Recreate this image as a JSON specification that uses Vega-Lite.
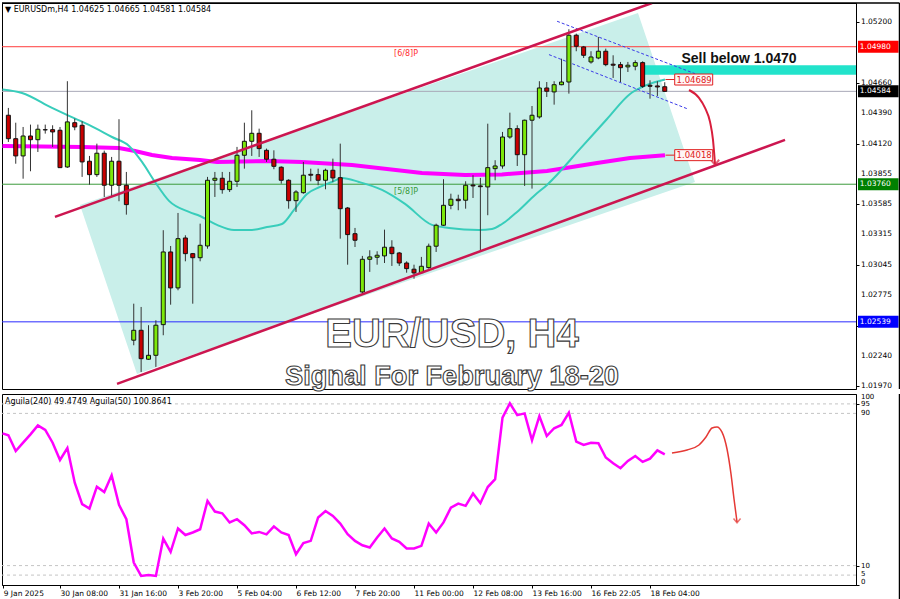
{
"$schema":"https://vega.github.io/schema/vega-lite/v6.json",
"background":"white",
"padding":{"left":0,"top":1,"right":0,"bottom":0},
"spacing":1,
"config":{"view":{"stroke":"#000000","strokeWidth":1},"font":"DejaVu Sans","axis":{"grid":false,"labelOverlap":false,"labelBound":false,"labelFlush":false},"scale":{"continuousPadding":0}},
"datasets":{
"candles":[
{"i":1,"o":1.04372,"h":1.04437,"l":1.04135,"c":1.04164},
{"i":2,"o":1.04164,"h":1.04306,"l":1.03942,"c":1.04011},
{"i":3,"o":1.04011,"h":1.04268,"l":1.03809,"c":1.04188},
{"i":4,"o":1.04188,"h":1.04289,"l":1.03875,"c":1.04155},
{"i":5,"o":1.04155,"h":1.04289,"l":1.04046,"c":1.04248},
{"i":6,"o":1.04244,"h":1.04289,"l":1.04209,"c":1.04242},
{"i":7,"o":1.04244,"h":1.04283,"l":1.04091,"c":1.04224},
{"i":8,"o":1.04239,"h":1.04268,"l":1.03904,"c":1.03907},
{"i":9,"o":1.03913,"h":1.04674,"l":1.03905,"c":1.04313},
{"i":10,"o":1.04306,"h":1.04342,"l":1.04239,"c":1.04268},
{"i":11,"o":1.04283,"h":1.04319,"l":1.03825,"c":1.03958},
{"i":12,"o":1.03964,"h":1.04011,"l":1.03756,"c":1.03845},
{"i":13,"o":1.03845,"h":1.0412,"l":1.03825,"c":1.04035},
{"i":14,"o":1.04035,"h":1.04058,"l":1.03647,"c":1.03751},
{"i":15,"o":1.03751,"h":1.04002,"l":1.03647,"c":1.03964},
{"i":16,"o":1.03964,"h":1.04337,"l":1.03609,"c":1.03751},
{"i":17,"o":1.03751,"h":1.03869,"l":1.0349,"c":1.03579},
{"i":18,"o":1.02376,"h":1.027,"l":1.02331,"c":1.02464},
{"i":19,"o":1.02464,"h":1.02671,"l":1.02094,"c":1.02212},
{"i":20,"o":1.02207,"h":1.02509,"l":1.02201,"c":1.02242},
{"i":21,"o":1.02242,"h":1.02553,"l":1.02139,"c":1.02509},
{"i":22,"o":1.02514,"h":1.03352,"l":1.0242,"c":1.03159},
{"i":23,"o":1.03159,"h":1.03212,"l":1.02691,"c":1.0284},
{"i":24,"o":1.0284,"h":1.03505,"l":1.02819,"c":1.03277},
{"i":25,"o":1.03283,"h":1.03307,"l":1.03076,"c":1.03144},
{"i":26,"o":1.03144,"h":1.0315,"l":1.027,"c":1.03108},
{"i":27,"o":1.03108,"h":1.0341,"l":1.03076,"c":1.03218},
{"i":28,"o":1.03212,"h":1.03825,"l":1.03188,"c":1.03795},
{"i":29,"o":1.03795,"h":1.03869,"l":1.03647,"c":1.03813},
{"i":30,"o":1.03813,"h":1.03869,"l":1.03676,"c":1.03712},
{"i":31,"o":1.03712,"h":1.03869,"l":1.03691,"c":1.03786},
{"i":32,"o":1.03786,"h":1.04091,"l":1.03736,"c":1.04017},
{"i":33,"o":1.04017,"h":1.04306,"l":1.03898,"c":1.04141},
{"i":34,"o":1.04141,"h":1.04416,"l":1.04011,"c":1.04212},
{"i":35,"o":1.04212,"h":1.04253,"l":1.04002,"c":1.04076},
{"i":36,"o":1.04061,"h":1.04076,"l":1.03958,"c":1.03982},
{"i":37,"o":1.03982,"h":1.04061,"l":1.03893,"c":1.03919},
{"i":38,"o":1.03911,"h":1.03919,"l":1.03765,"c":1.03795},
{"i":39,"o":1.03795,"h":1.03804,"l":1.03543,"c":1.03614},
{"i":40,"o":1.03614,"h":1.03707,"l":1.03514,"c":1.03691},
{"i":41,"o":1.03685,"h":1.03958,"l":1.03676,"c":1.0384},
{"i":42,"o":1.03848,"h":1.03898,"l":1.03786,"c":1.0384},
{"i":43,"o":1.03845,"h":1.03898,"l":1.03751,"c":1.03795},
{"i":44,"o":1.03795,"h":1.03898,"l":1.03715,"c":1.03884},
{"i":45,"o":1.03884,"h":1.03987,"l":1.0378,"c":1.03816},
{"i":46,"o":1.03818,"h":1.0412,"l":1.03277,"c":1.03543},
{"i":47,"o":1.03549,"h":1.03558,"l":1.03046,"c":1.03313},
{"i":48,"o":1.03321,"h":1.03372,"l":1.03203,"c":1.03263},
{"i":49,"o":1.02804,"h":1.03124,"l":1.02789,"c":1.03094},
{"i":50,"o":1.03094,"h":1.03174,"l":1.02982,"c":1.03115},
{"i":51,"o":1.03112,"h":1.03165,"l":1.03046,"c":1.0313},
{"i":52,"o":1.03124,"h":1.03357,"l":1.03061,"c":1.03201},
{"i":53,"o":1.03201,"h":1.03263,"l":1.03035,"c":1.03144},
{"i":54,"o":1.0315,"h":1.03159,"l":1.03035,"c":1.03061},
{"i":55,"o":1.03061,"h":1.03076,"l":1.02975,"c":1.03011},
{"i":56,"o":1.03006,"h":1.03046,"l":1.02922,"c":1.02973},
{"i":57,"o":1.02975,"h":1.03115,"l":1.02966,"c":1.03032},
{"i":58,"o":1.0302,"h":1.03233,"l":1.03011,"c":1.0321},
{"i":59,"o":1.0321,"h":1.0341,"l":1.03159,"c":1.03396},
{"i":60,"o":1.03396,"h":1.03804,"l":1.0339,"c":1.03573},
{"i":61,"o":1.03573,"h":1.03676,"l":1.03538,"c":1.03627},
{"i":62,"o":1.03627,"h":1.03667,"l":1.03529,"c":1.03614},
{"i":63,"o":1.03618,"h":1.03786,"l":1.03543,"c":1.03751},
{"i":64,"o":1.03753,"h":1.0384,"l":1.03638,"c":1.03745},
{"i":65,"o":1.03745,"h":1.03816,"l":1.03159,"c":1.03738},
{"i":66,"o":1.03736,"h":1.04297,"l":1.03485,"c":1.03907},
{"i":67,"o":1.03898,"h":1.03973,"l":1.03795,"c":1.03922},
{"i":68,"o":1.03922,"h":1.04224,"l":1.03898,"c":1.04179},
{"i":69,"o":1.04179,"h":1.04395,"l":1.04164,"c":1.04253},
{"i":70,"o":1.04253,"h":1.04283,"l":1.03922,"c":1.04022},
{"i":71,"o":1.04022,"h":1.04333,"l":1.03745,"c":1.04328},
{"i":72,"o":1.04328,"h":1.04454,"l":1.03721,"c":1.04372},
{"i":73,"o":1.04357,"h":1.04674,"l":1.04342,"c":1.04614},
{"i":74,"o":1.04614,"h":1.04667,"l":1.04534,"c":1.04585},
{"i":75,"o":1.04579,"h":1.04674,"l":1.04466,"c":1.04643},
{"i":76,"o":1.04643,"h":1.04874,"l":1.04638,"c":1.04667},
{"i":77,"o":1.04667,"h":1.05135,"l":1.04564,"c":1.05082},
{"i":78,"o":1.05082,"h":1.05096,"l":1.0494,"c":1.04984},
{"i":79,"o":1.04978,"h":1.04987,"l":1.0488,"c":1.04904},
{"i":80,"o":1.04845,"h":1.0494,"l":1.0483,"c":1.04889},
{"i":81,"o":1.0488,"h":1.05067,"l":1.04869,"c":1.0494},
{"i":82,"o":1.0494,"h":1.04963,"l":1.04807,"c":1.04821},
{"i":83,"o":1.04825,"h":1.04904,"l":1.04703,"c":1.04816},
{"i":84,"o":1.04821,"h":1.04845,"l":1.04667,"c":1.04794},
{"i":85,"o":1.04801,"h":1.04845,"l":1.04756,"c":1.04816},
{"i":86,"o":1.04807,"h":1.0486,"l":1.04771,"c":1.04839},
{"i":87,"o":1.04839,"h":1.04851,"l":1.04614,"c":1.04629},
{"i":88,"o":1.04638,"h":1.04682,"l":1.04519,"c":1.04629},
{"i":89,"o":1.04632,"h":1.04674,"l":1.04543,"c":1.04623},
{"i":90,"o":1.04625,"h":1.04665,"l":1.04581,"c":1.04584}
],
"cyan":[
{"i":0.2,"p":1.04601},{"i":2.85,"p":1.0457},{"i":6.92,"p":1.04437},{"i":9.22,"p":1.04366},{"i":11.93,"p":1.04286},{"i":15.05,"p":1.04179},{"i":17.36,"p":1.041},{"i":19.12,"p":1.03958},{"i":20.88,"p":1.0378},{"i":22.78,"p":1.03612},{"i":25.49,"p":1.03514},{"i":26.98,"p":1.03478},{"i":29.29,"p":1.03399},{"i":31.59,"p":1.03354},{"i":34.03,"p":1.03354},{"i":36.07,"p":1.03381},{"i":38.1,"p":1.03407},{"i":39.73,"p":1.03532},{"i":41.49,"p":1.03674},{"i":43.25,"p":1.03736},{"i":44.88,"p":1.0378},{"i":46.24,"p":1.03816},{"i":48.54,"p":1.0378},{"i":51.66,"p":1.03709},{"i":54.78,"p":1.03585},{"i":58.44,"p":1.03399},{"i":60.75,"p":1.03372},{"i":64.81,"p":1.03354},{"i":66.58,"p":1.03363},{"i":67.93,"p":1.03407},{"i":69.97,"p":1.03514},{"i":72.41,"p":1.03665},{"i":74.03,"p":1.03754},{"i":78.51,"p":1.04073},{"i":82.17,"p":1.04339},{"i":85.29,"p":1.04561},{"i":87.59,"p":1.04641},{"i":90.03,"p":1.04689}
],
"mag":[
{"i":0.2,"p":1.041},{"i":10.98,"p":1.04091},{"i":16.0,"p":1.04082},{"i":18.17,"p":1.04055},{"i":20.47,"p":1.0402},{"i":23.19,"p":1.03993},{"i":26.98,"p":1.03975},{"i":29.29,"p":1.03958},{"i":36.07,"p":1.03966},{"i":40.81,"p":1.03958},{"i":47.59,"p":1.03931},{"i":57.08,"p":1.0386},{"i":62.92,"p":1.03842},{"i":67.93,"p":1.03847},{"i":74.03,"p":1.03878},{"i":80.81,"p":1.03949},{"i":85.29,"p":1.03993},{"i":90.03,"p":1.04018}
],
"ind":[
{"i":0.2,"v":79.5},{"i":1,"v":78.5},{"i":2,"v":70.2},{"i":3,"v":74.6},{"i":4,"v":79},{"i":5,"v":83.7},{"i":6,"v":81.3},{"i":7,"v":74.6},{"i":8,"v":65.5},{"i":9,"v":71.8},{"i":10,"v":53.6},{"i":11,"v":42.3},{"i":12,"v":40},{"i":13,"v":51.5},{"i":14,"v":48.7},{"i":15,"v":57.5},{"i":16,"v":41.9},{"i":17,"v":34.4},{"i":18,"v":11.6},{"i":19,"v":4.6},{"i":20,"v":5.1},{"i":21,"v":4.6},{"i":22,"v":24.2},{"i":23,"v":17.2},{"i":24,"v":29.5},{"i":25,"v":26.1},{"i":26,"v":27.4},{"i":27,"v":29.1},{"i":28,"v":44},{"i":29,"v":38.4},{"i":30,"v":37.5},{"i":31,"v":32.7},{"i":32,"v":34.4},{"i":33,"v":31.2},{"i":34,"v":26.9},{"i":35,"v":27.7},{"i":36,"v":26.4},{"i":37,"v":30.6},{"i":38,"v":27.4},{"i":39,"v":26.1},{"i":40,"v":16},{"i":41,"v":21.8},{"i":42,"v":23},{"i":43,"v":35.3},{"i":44,"v":38.7},{"i":45,"v":36.1},{"i":46,"v":32.1},{"i":47,"v":26.5},{"i":48,"v":23},{"i":49,"v":20.7},{"i":50,"v":19.5},{"i":51,"v":24.8},{"i":52,"v":29.5},{"i":53,"v":24.3},{"i":54,"v":22.5},{"i":55,"v":19},{"i":56,"v":19},{"i":57,"v":20.4},{"i":58,"v":32.1},{"i":59,"v":27.4},{"i":60,"v":32.7},{"i":61,"v":40.5},{"i":62,"v":42.6},{"i":63,"v":41.4},{"i":64,"v":47.9},{"i":65,"v":42.8},{"i":66,"v":51.3},{"i":67,"v":55.4},{"i":68,"v":87.8},{"i":69,"v":95.3},{"i":70,"v":89.1},{"i":71,"v":90},{"i":72,"v":75.9},{"i":73,"v":88.6},{"i":74,"v":78.1},{"i":75,"v":82.2},{"i":76,"v":83.9},{"i":77,"v":90.4},{"i":78,"v":75.2},{"i":79,"v":73.4},{"i":80,"v":74.6},{"i":81,"v":74.3},{"i":82,"v":66.8},{"i":83,"v":63.8},{"i":84,"v":61.2},{"i":85,"v":65},{"i":86,"v":67.6},{"i":87,"v":64.5},{"i":88,"v":66.2},{"i":89,"v":70.6},{"i":90,"v":68.5}
],
"indArrow":[
{"i":90.98,"v":69.2},{"i":93.02,"v":70.8},{"i":94.64,"v":73.4},{"i":95.59,"v":77.6},{"i":96.41,"v":82.3},{"i":97.08,"v":82.9},{"i":97.76,"v":80.2},{"i":98.44,"v":71.3},{"i":98.98,"v":58.2},{"i":99.39,"v":45},{"i":99.8,"v":32.9}
],
"priceArrow":[
{"i":93.29,"p":1.04596},{"i":94.64,"p":1.04526},{"i":95.46,"p":1.04437},{"i":96.14,"p":1.04313},{"i":96.54,"p":1.04153},{"i":96.81,"p":1.0394}
]
},
"vconcat":[
{
"width":854,"height":386,
"resolve":{"scale":{"color":"independent"}},
"layer":[
{"data":{"values":[{"i":10.71,"top":1.03576,"bot":1.03576},{"i":18.44,"top":1.0375,"bot":1.02076},{"i":86.37,"top":1.0528,"bot":1.03606},{"i":94.1,"top":1.0378,"bot":1.0378}]},
 "mark":{"type":"area","color":"#C9EFEA","clip":true},
 "encoding":{"x":{"field":"i","type":"quantitative","scale":{"domain":[0.136,115.93],"nice":false,"zero":false},"axis":null},
  "y":{"field":"top","type":"quantitative","scale":{"domain":[1.01943,1.05368],"nice":false,"zero":false},
   "axis":{"orient":"right","values":[1.052,1.0493,1.0466,1.0439,1.0412,1.03855,1.03585,1.03315,1.03045,1.02775,1.02505,1.0224,1.0197],"labels":false,"title":null,"tickColor":"#000000","tickSize":3,"domainColor":"#000000"}},
  "y2":{"field":"bot"}}},
{"data":{"values":[{"p":1.0498,"k":"r"},{"p":1.0376,"k":"g"},{"p":1.02539,"k":"b"},{"p":1.04584,"k":"k"}]},
 "mark":{"type":"rule","strokeWidth":1},
 "encoding":{"y":{"field":"p","type":"quantitative","scale":{"domain":[1.01943,1.05368],"nice":false,"zero":false}},
  "color":{"field":"k","type":"nominal","scale":{"domain":["r","g","b","k"],"range":["#FF3B3B","#3C9A3C","#2A2AFF","#A8A8B8"]},"legend":null}}},
{"data":{"values":[{"i1":87.3,"i2":115.93,"p1":1.04816,"p2":1.04732}]},
 "mark":{"type":"rect","color":"#22E3CB","clip":true},
 "encoding":{"x":{"field":"i1","type":"quantitative","scale":{"domain":[0.136,115.93],"nice":false,"zero":false},"axis":null},"x2":{"field":"i2"},
  "y":{"field":"p1","type":"quantitative","scale":{"domain":[1.01943,1.05368],"nice":false,"zero":false}},"y2":{"field":"p2"}}},
{"data":{"name":"mag"},
 "mark":{"type":"line","color":"#FF00FF","strokeWidth":4,"clip":true},
 "encoding":{"x":{"field":"i","type":"quantitative","scale":{"domain":[0.136,115.93],"nice":false,"zero":false},"axis":null},
  "y":{"field":"p","type":"quantitative","scale":{"domain":[1.01943,1.05368],"nice":false,"zero":false}}}},
{"data":{"name":"cyan"},
 "mark":{"type":"line","color":"#38CDBB","strokeWidth":2,"interpolate":"monotone","clip":true},
 "encoding":{"x":{"field":"i","type":"quantitative","scale":{"domain":[0.136,115.93],"nice":false,"zero":false},"axis":null},
  "y":{"field":"p","type":"quantitative","scale":{"domain":[1.01943,1.05368],"nice":false,"zero":false}}}},
{"data":{"values":[{"i1":75.4,"p1":1.05206,"i2":94.1,"p2":1.04741},{"i1":74.3,"p1":1.0491,"i2":93.0,"p2":1.04431}]},
 "mark":{"type":"rule","color":"#3A3AE8","strokeWidth":1,"strokeDash":[3,2],"clip":true},
 "encoding":{"x":{"field":"i1","type":"quantitative","scale":{"domain":[0.136,115.93],"nice":false,"zero":false},"axis":null},"x2":{"field":"i2"},
  "y":{"field":"p1","type":"quantitative","scale":{"domain":[1.01943,1.05368],"nice":false,"zero":false}},"y2":{"field":"p2"}}},
{"data":{"name":"candles"},
 "mark":{"type":"rule","color":"#333333","strokeWidth":1},
 "encoding":{"x":{"field":"i","type":"quantitative","scale":{"domain":[0.136,115.93],"nice":false,"zero":false},"axis":null},
  "y":{"field":"l","type":"quantitative","scale":{"domain":[1.01943,1.05368],"nice":false,"zero":false}},"y2":{"field":"h"}}},
{"data":{"name":"candles"},
 "mark":{"type":"bar","size":4,"stroke":"#111111","strokeWidth":1},
 "encoding":{"x":{"field":"i","type":"quantitative","scale":{"domain":[0.136,115.93],"nice":false,"zero":false},"axis":null},
  "y":{"field":"o","type":"quantitative","scale":{"domain":[1.01943,1.05368],"nice":false,"zero":false}},"y2":{"field":"c"},
  "fill":{"condition":{"test":"datum.c >= datum.o","value":"#7CE80A"},"value":"#C80000"}}},
{"data":{"values":[{"i1":7.32,"p1":1.0347,"i2":88.27,"p2":1.05368},{"i1":15.73,"p1":1.01988,"i2":106.31,"p2":1.04153}]},
 "mark":{"type":"rule","color":"#CC1650","strokeWidth":2.5,"clip":true},
 "encoding":{"x":{"field":"i1","type":"quantitative","scale":{"domain":[0.136,115.93],"nice":false,"zero":false},"axis":null},"x2":{"field":"i2"},
  "y":{"field":"p1","type":"quantitative","scale":{"domain":[1.01943,1.05368],"nice":false,"zero":false}},"y2":{"field":"p2"}}},
{"data":{"name":"priceArrow"},
 "mark":{"type":"line","color":"#D81E3C","strokeWidth":2,"interpolate":"monotone"},
 "encoding":{"x":{"field":"i","type":"quantitative","scale":{"domain":[0.136,115.93],"nice":false,"zero":false},"axis":null},
  "y":{"field":"p","type":"quantitative","scale":{"domain":[1.01943,1.05368],"nice":false,"zero":false}}}},
{"data":{"values":[{"i":96.81,"p":1.0394}]},
 "mark":{"type":"point","shape":"M -1 -1 L 0 0.2 L 1 -1","filled":false,"stroke":"#D81E3C","strokeWidth":2,"size":70},
 "encoding":{"x":{"field":"i","type":"quantitative","scale":{"domain":[0.136,115.93],"nice":false,"zero":false},"axis":null},
  "y":{"field":"p","type":"quantitative","scale":{"domain":[1.01943,1.05368],"nice":false,"zero":false}}}},
{"data":{"values":[{"p":1.04689},{"p":1.04018}]},
 "mark":{"type":"rule","color":"#E02020","strokeWidth":1},
 "encoding":{"x":{"datum":90.1,"type":"quantitative","scale":{"domain":[0.136,115.93],"nice":false,"zero":false},"axis":null},"x2":{"datum":91.35},
  "y":{"field":"p","type":"quantitative","scale":{"domain":[1.01943,1.05368],"nice":false,"zero":false}}}},
{"data":{"values":[{"p":1.04689},{"p":1.04018}]},
 "mark":{"type":"bar","orient":"horizontal","size":11,"fill":"#FFF6F6","stroke":"#E02020","strokeWidth":1},
 "encoding":{"x":{"datum":91.35,"type":"quantitative","scale":{"domain":[0.136,115.93],"nice":false,"zero":false},"axis":null},"x2":{"datum":96.5},
  "y":{"field":"p","type":"quantitative","scale":{"domain":[1.01943,1.05368],"nice":false,"zero":false}}}},
{"data":{"values":[{"p":1.04689,"t":"1.04689"},{"p":1.04018,"t":"1.04018"}]},
 "mark":{"type":"text","align":"left","baseline":"middle","fontSize":8.5,"color":"#E02020","font":"DejaVu Sans"},
 "encoding":{"x":{"datum":91.6,"type":"quantitative","scale":{"domain":[0.136,115.93],"nice":false,"zero":false},"axis":null},
  "y":{"field":"p","type":"quantitative","scale":{"domain":[1.01943,1.05368],"nice":false,"zero":false}},"text":{"field":"t"}}},
{"data":{"values":[{"p":1.052,"t":"1.05200"},{"p":1.0466,"t":"1.04660"},{"p":1.0439,"t":"1.04390"},{"p":1.0412,"t":"1.04120"},{"p":1.03855,"t":"1.03855"},{"p":1.03585,"t":"1.03585"},{"p":1.03315,"t":"1.03315"},{"p":1.03045,"t":"1.03045"},{"p":1.02775,"t":"1.02775"},{"p":1.0224,"t":"1.02240"},{"p":1.0197,"t":"1.01970"}]},
 "mark":{"type":"text","align":"left","baseline":"middle","fontSize":7.5,"color":"#000000","clip":false},
 "encoding":{"x":{"datum":116.6,"type":"quantitative","scale":{"domain":[0.136,115.93],"nice":false,"zero":false},"axis":null},
  "y":{"field":"p","type":"quantitative","scale":{"domain":[1.01943,1.05368],"nice":false,"zero":false}},"text":{"field":"t"}}},
{"data":{"values":[{"p":1.0498,"t":"1.04980","k":"a"},{"p":1.04584,"t":"1.04584","k":"b"},{"p":1.0376,"t":"1.03760","k":"c"},{"p":1.02539,"t":"1.02539","k":"d"}]},
 "mark":{"type":"bar","orient":"horizontal","size":12,"clip":false},
 "encoding":{"x":{"datum":116.2,"type":"quantitative","scale":{"domain":[0.136,115.93],"nice":false,"zero":false},"axis":null},"x2":{"datum":121.7},
  "y":{"field":"p","type":"quantitative","scale":{"domain":[1.01943,1.05368],"nice":false,"zero":false}},
  "color":{"field":"k","type":"nominal","scale":{"domain":["a","b","c","d"],"range":["#FF0000","#000000","#008000","#0000FF"]},"legend":null}}},
{"data":{"values":[{"p":1.0498,"t":"1.04980"},{"p":1.04584,"t":"1.04584"},{"p":1.0376,"t":"1.03760"},{"p":1.02539,"t":"1.02539"}]},
 "mark":{"type":"text","align":"left","baseline":"middle","fontSize":7.5,"color":"#FFFFFF","clip":false},
 "encoding":{"x":{"datum":116.45,"type":"quantitative","scale":{"domain":[0.136,115.93],"nice":false,"zero":false},"axis":null},
  "y":{"field":"p","type":"quantitative","scale":{"domain":[1.01943,1.05368],"nice":false,"zero":false}},"text":{"field":"t"}}},
{"data":{"values":[{"x":121.83}]},
 "mark":{"type":"rule","color":"#000000","strokeWidth":1.5,"clip":false},
 "encoding":{"x":{"field":"x","type":"quantitative","scale":{"domain":[0.136,115.93],"nice":false,"zero":false},"axis":null}}},
{"data":{"values":[{"x1":0.136,"x2":121.83,"p":1.05368}]},
 "mark":{"type":"rule","color":"#000000","strokeWidth":1.5,"clip":false},
 "encoding":{"x":{"field":"x1","type":"quantitative","scale":{"domain":[0.136,115.93],"nice":false,"zero":false},"axis":null},"x2":{"field":"x2"},
  "y":{"field":"p","type":"quantitative","scale":{"domain":[1.01943,1.05368],"nice":false,"zero":false}}}},
{"data":{"values":[{"i":53.3,"p":1.04916,"t":"[6/8]P","k":"r"},{"i":53.3,"p":1.03691,"t":"[5/8]P","k":"g"}]},
 "mark":{"type":"text","align":"left","baseline":"middle","fontSize":8},
 "encoding":{"x":{"field":"i","type":"quantitative","scale":{"domain":[0.136,115.93],"nice":false,"zero":false},"axis":null},
  "y":{"field":"p","type":"quantitative","scale":{"domain":[1.01943,1.05368],"nice":false,"zero":false}},"text":{"field":"t"},
  "color":{"field":"k","type":"nominal","scale":{"domain":["r","g"],"range":["#FF3030","#3A9A3A"]},"legend":null}}},
{"data":{"values":[{"i":0.54,"p":1.05306,"t":"▼  EURUSDm,H4  1.04625 1.04665 1.04581 1.04584"}]},
 "mark":{"type":"text","align":"left","baseline":"middle","fontSize":8,"color":"#000000"},
 "encoding":{"x":{"field":"i","type":"quantitative","scale":{"domain":[0.136,115.93],"nice":false,"zero":false},"axis":null},
  "y":{"field":"p","type":"quantitative","scale":{"domain":[1.01943,1.05368],"nice":false,"zero":false}},"text":{"field":"t"}}},
{"data":{"values":[{"i":100.07,"p":1.04872,"t":"Sell below 1.0470"}]},
 "mark":{"type":"text","align":"center","baseline":"middle","fontSize":14,"fontWeight":"bold","font":"Liberation Sans","color":"#111111"},
 "encoding":{"x":{"field":"i","type":"quantitative","scale":{"domain":[0.136,115.93],"nice":false,"zero":false},"axis":null},
  "y":{"field":"p","type":"quantitative","scale":{"domain":[1.01943,1.05368],"nice":false,"zero":false}},"text":{"field":"t"}}},
{"data":{"values":[{"i":61.15,"p":1.02423,"t":"EUR/USD, H4","s":25},{"i":61.15,"p":1.0205,"t":"Signal For February 18-20","s":15}]},
 "mark":{"type":"text","align":"center","baseline":"middle","fontWeight":"bold","font":"Liberation Sans","fill":"#FFFFFF","stroke":"#3A3A3A","strokeWidth":1.1},
 "encoding":{"x":{"field":"i","type":"quantitative","scale":{"domain":[0.136,115.93],"nice":false,"zero":false},"axis":null},
  "y":{"field":"p","type":"quantitative","scale":{"domain":[1.01943,1.05368],"nice":false,"zero":false}},"text":{"field":"t"},
  "size":{"field":"s","type":"quantitative","scale":{"type":"identity"},"legend":null}}}
]
},
{
"width":854,"height":191,
"layer":[
{"data":{"values":[{"v":95},{"v":90},{"v":10},{"v":5}]},
 "mark":{"type":"rule","color":"#C4C4C4","strokeWidth":1,"strokeDash":[3,3]},
 "encoding":{"y":{"field":"v","type":"quantitative","scale":{"domain":[-0.2,100.2],"nice":false,"zero":false}}}},
{"data":{"name":"ind"},
 "mark":{"type":"line","color":"#FF00FF","strokeWidth":2.5,"clip":true},
 "encoding":{"x":{"field":"i","type":"quantitative","scale":{"domain":[0.136,115.93],"nice":false,"zero":false},
   "axis":{"orient":"bottom","values":[0.3,8,16,24,32,40,48,56,64,72,80,88],"labelExpr":"datum.value < 1 ? '9 Jan 2025' : ['30 Jan 08:00','31 Jan 16:00','3 Feb 20:00','5 Feb 04:00','6 Feb 12:00','7 Feb 20:00','11 Feb 00:00','12 Feb 08:00','13 Feb 16:00','16 Feb 22:05','18 Feb 04:00'][round(datum.value/8)-1]","labelAlign":"left","labelBaseline":"top","labelPadding":1,"tickSize":3,"labelFontSize":7.5,"title":null,"labelColor":"#000000","tickColor":"#000000","domainColor":"#000000","labelOverlap":false,"labelBound":false,"labelFlush":false}},
  "y":{"field":"v","type":"quantitative","scale":{"domain":[-0.2,100.2],"nice":false,"zero":false},
   "axis":{"orient":"right","values":[0,5,10,90,95,100],"labels":false,"title":null,"tickColor":"#000000","tickSize":3,"domainColor":"#000000"}}}},
{"data":{"name":"indArrow"},
 "mark":{"type":"line","color":"#E53935","strokeWidth":1.5,"interpolate":"monotone"},
 "encoding":{"x":{"field":"i","type":"quantitative","scale":{"domain":[0.136,115.93],"nice":false,"zero":false}},
  "y":{"field":"v","type":"quantitative","scale":{"domain":[-0.2,100.2],"nice":false,"zero":false}}}},
{"data":{"values":[{"i":99.8,"v":32.9}]},
 "mark":{"type":"point","shape":"M -1 -1 L 0 0.2 L 1 -1","filled":false,"stroke":"#E53935","strokeWidth":1.5,"size":50},
 "encoding":{"x":{"field":"i","type":"quantitative","scale":{"domain":[0.136,115.93],"nice":false,"zero":false}},
  "y":{"field":"v","type":"quantitative","scale":{"domain":[-0.2,100.2],"nice":false,"zero":false}}}},
{"data":{"values":[{"v":98.6,"t":"100"},{"v":95,"t":"95"},{"v":90.3,"t":"90"},{"v":10,"t":"10"},{"v":5.4,"t":"5"},{"v":1.2,"t":"0"}]},
 "mark":{"type":"text","align":"left","baseline":"middle","fontSize":7,"color":"#000000","clip":false},
 "encoding":{"x":{"datum":116.6,"type":"quantitative","scale":{"domain":[0.136,115.93],"nice":false,"zero":false}},
  "y":{"field":"v","type":"quantitative","scale":{"domain":[-0.2,100.2],"nice":false,"zero":false}},"text":{"field":"t"}}},
{"data":{"values":[{"x":121.83,"v1":100.2,"v2":-8.3}]},
 "mark":{"type":"rule","color":"#000000","strokeWidth":1.5,"clip":false},
 "encoding":{"x":{"field":"x","type":"quantitative","scale":{"domain":[0.136,115.93],"nice":false,"zero":false}},
  "y":{"field":"v1","type":"quantitative","scale":{"domain":[-0.2,100.2],"nice":false,"zero":false}},"y2":{"field":"v2"}}},
{"data":{"values":[{"x1":0.136,"x2":121.83,"v":-8.3}]},
 "mark":{"type":"rule","color":"#000000","strokeWidth":1.5,"clip":false},
 "encoding":{"x":{"field":"x1","type":"quantitative","scale":{"domain":[0.136,115.93],"nice":false,"zero":false}},"x2":{"field":"x2"},
  "y":{"field":"v","type":"quantitative","scale":{"domain":[-0.2,100.2],"nice":false,"zero":false}}}},
{"data":{"values":[{"i":0.54,"v":96.1,"t":"Aguila(240) 49.4749  Aguila(50) 100.8641"}]},
 "mark":{"type":"text","align":"left","baseline":"middle","fontSize":8,"color":"#000000"},
 "encoding":{"x":{"field":"i","type":"quantitative","scale":{"domain":[0.136,115.93],"nice":false,"zero":false}},
  "y":{"field":"v","type":"quantitative","scale":{"domain":[-0.2,100.2],"nice":false,"zero":false}},"text":{"field":"t"}}}
]
}
]
}
